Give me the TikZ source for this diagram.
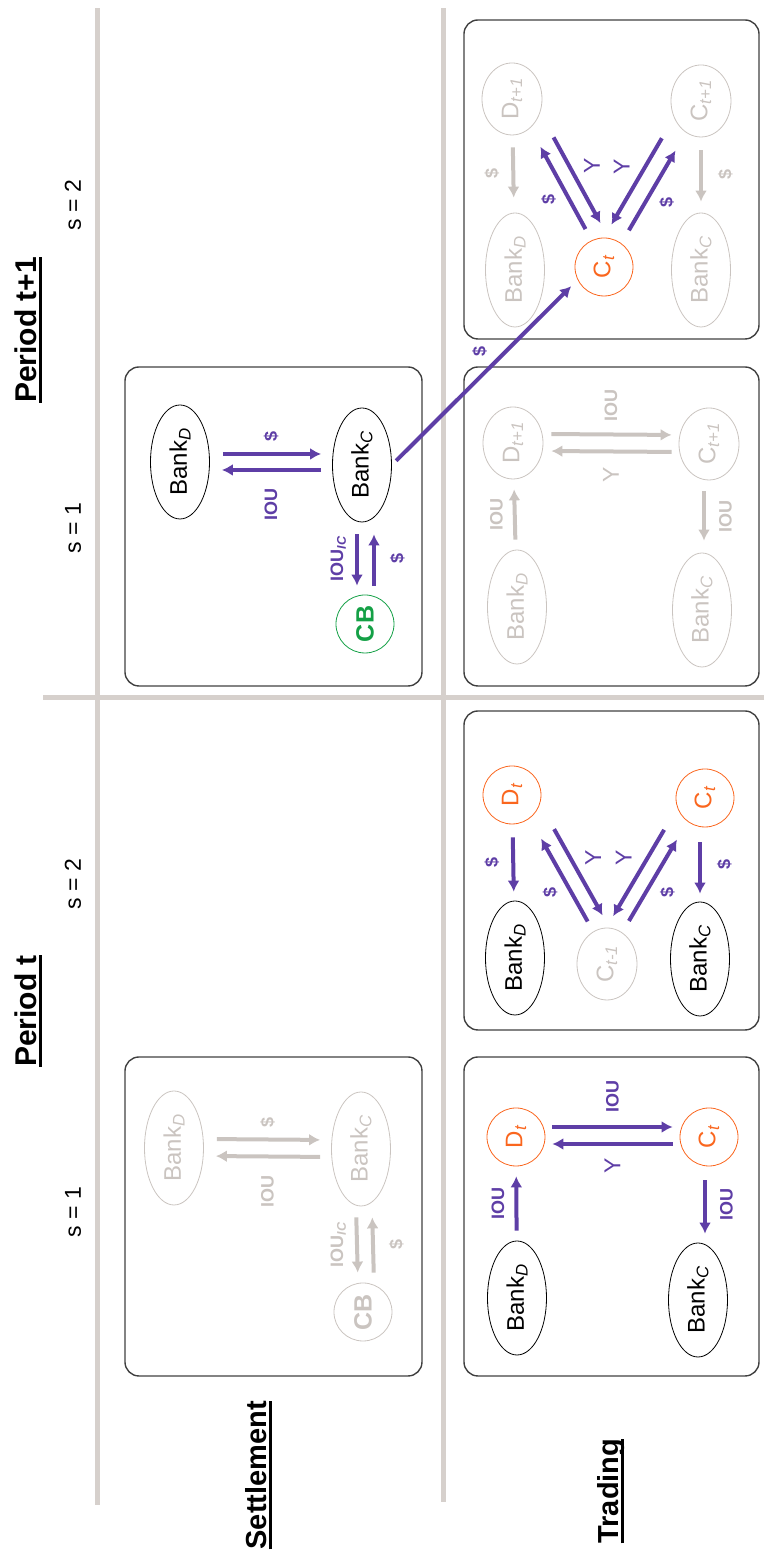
\documentclass[tikz,border=0pt]{standalone}
\usepackage{fontspec}
\setmainfont{Liberation Sans}
\usetikzlibrary{arrows.meta,calc,shapes.geometric}

\definecolor{flowpurple}{RGB}{94,62,166}
\definecolor{agentorange}{RGB}{250,102,30}
\definecolor{cbgreen}{RGB}{20,160,70}
\definecolor{ghost}{RGB}{202,196,192}
\definecolor{gridgrey}{RGB}{214,208,204}
\definecolor{panelline}{RGB}{64,64,64}

\newcommand{\fsz}[1]{\fontsize{#1}{#1}\selectfont}
\newcommand{\lowtag}[1]{\textsubscript{\itshape #1}}
\newcommand{\headline}[1]{\setbox0=\hbox{#1}\rlap{\rule[-5.5pt]{\wd0}{3pt}}\box0}

\tikzset{
  bank/.style={ellipse,draw,line width=.8pt,minimum width=114pt,minimum height=59pt,inner sep=0pt,font=\fsz{24}},
  ghostbank/.style={bank,draw=ghost,text=ghost},
  agent/.style={circle,draw=agentorange,text=agentorange,line width=.8pt,minimum size=58pt,inner sep=0pt,font=\fsz{24}},
  ghostagent/.style={ellipse,draw=ghost,text=ghost,line width=.8pt,minimum width=72pt,minimum height=60pt,inner sep=0pt,font=\fsz{24}},
  cbnode/.style={circle,draw=cbgreen,text=cbgreen,line width=.8pt,minimum size=58pt,inner sep=0pt,font=\bfseries\fsz{25}},
  ghostcb/.style={cbnode,draw=ghost,text=ghost},
  panel/.style={draw=panelline,line width=1.4pt,rounded corners=14pt},
  gridline/.style={draw=gridgrey,line width=5pt},
  flow/.style={draw=flowpurple,line width=4pt,-{Latex[length=11pt,width=12pt]},shorten <=10pt,shorten >=10pt},
  ghostflow/.style={flow,draw=ghost},
  diag/.style={flow,shorten <=0pt,shorten >=0pt},
  lbl/.style={text=flowpurple,font=\bfseries\fsz{18},inner sep=2pt},
  ylbl/.style={lbl,font=\fsz{23}},
  ghostlbl/.style={lbl,text=ghost},
  ghostylbl/.style={ylbl,text=ghost},
  heading/.style={font=\bfseries\fsz{30}},
  slbl/.style={font=\fsz{23}},
}

\begin{document}
\begin{tikzpicture}[x=1pt,y=1pt,rotate=90,transform shape,line join=round]
  \useasboundingbox (0,0) rectangle (1562,764);
  % grey grid
  \draw[gridline] (57,666) -- (1554,666) (60,320) -- (1554,320) (864,0) -- (864,721);
  % panels
  \foreach \x/\y/\h in {186/342/297,876/342/297,186/5/295,532/5/295,876/5/295,1223/5/295}{
    \draw[panel] (\x,\y) rectangle ++(319,\h);
  }
  % headings
  \node[heading,anchor=base] (pert) at (551,727) {\headline{Period t}};
  \node[heading,anchor=base] (pertn) at (1232,727) {\headline{Period t+1}};
  \node[heading,font=\bfseries\fsz{29},anchor=base west] (settle) at (9,497) {\headline{Settlement}};
  \node[heading,font=\bfseries\fsz{29},anchor=base west] (trade) at (15,145) {\headline{Trading}};
  \foreach \x/\n/\s in {350/sa/1,678/sb/2,1034/sc/1,1357/sd/2}{
    \node[slbl] (\n) at (\x,691) {s = \s};
  }

  % settlement, period t
  \node[ghostbank] (gbkd1) at (414,590) {Bank\lowtag{D}};
  \node[ghostbank] (gbkc1) at (413,403) {Bank\lowtag{C}};
  \node[ghostcb] (gcb1) at (250,401) {CB};
  \draw[ghostflow,shorten <=13pt,shorten >=11pt] ($(gbkd1.south)+(9,0)$) -- node[ghostlbl,right=8pt]{\$} ($(gbkc1.north)+(9,0)$);
  \draw[ghostflow,shorten <=11pt,shorten >=12pt] ($(gbkc1.north)+(-8,0)$) -- node[ghostlbl,left=15pt]{IOU} ($(gbkd1.south)+(-8,0)$);
  \draw[ghostflow,shorten <=11pt,shorten >=10pt] ($(gbkc1.west)+(0,5)$) -- node[ghostlbl,above=7pt]{IOU\lowtag{IC}} ($(gcb1.east)+(0,5)$);
  \draw[ghostflow,shorten <=10pt,shorten >=11pt] ($(gcb1.east)+(0,-11)$) -- node[ghostlbl,below=12pt]{\$} ($(gbkc1.west)+(0,-11)$);

  % settlement, period t+1
  \node[bank] (bkd1) at (1100,584) {Bank\lowtag{D}};
  \node[bank] (bkc1) at (1097,402) {Bank\lowtag{C}};
  \node[cbnode] (cb1) at (938,399) {CB};
  \draw[flow,shorten <=13pt,shorten >=11pt] ($(bkd1.south)+(8,0)$) -- node[lbl,right=8pt]{\$} ($(bkc1.north)+(11,0)$);
  \draw[flow,shorten <=11pt,shorten >=12pt] ($(bkc1.north)+(-5,0)$) -- node[lbl,left=15pt]{IOU} ($(bkd1.south)+(-8,0)$);
  \draw[flow,shorten <=12pt,shorten >=9pt] ($(bkc1.west)+(0,5)$) -- node[lbl,above=7pt]{IOU\lowtag{IC}} ($(cb1.east)+(0,8)$);
  \draw[flow,shorten <=9pt,shorten >=12pt] ($(cb1.east)+(0,-9)$) -- node[lbl,below=12pt]{\$} ($(bkc1.west)+(0,-12)$);

  % trading, period t, s = 1
  \node[bank] (bkd2) at (264,247) {Bank\lowtag{D}};
  \node[bank] (bkc2) at (262,66) {Bank\lowtag{C}};
  \node[agent] (dt1) at (425,248) {D\lowtag{t}};
  \node[agent] (ct1) at (425,55) {C\lowtag{t}};
  \draw[flow] (bkd2) -- node[lbl,above=8pt]{IOU} (dt1);
  \draw[flow,shorten <=7pt,shorten >=7pt] ($(dt1.south)+(10,0)$) -- node[lbl,right=10pt]{IOU} ($(ct1.north)+(10,0)$);
  \draw[flow,shorten <=7pt,shorten >=7pt] ($(ct1.north)+(-7,0)$) -- node[ylbl,left=10pt]{Y} ($(dt1.south)+(-7,0)$);
  \draw[flow,shorten <=14pt,shorten >=9pt] ($(ct1.west)+(0,4)$) -- node[lbl,below=11pt]{IOU} ($(bkc2.east)+(0,-7)$);

  % trading, period t, s = 2
  \node[bank] (bkd3) at (604,249) {Bank\lowtag{D}};
  \node[bank] (bkc3) at (603,64) {Bank\lowtag{C}};
  \node[agent] (dt2) at (767,252) {D\lowtag{t}};
  \node[agent] (ct2) at (764,59) {C\lowtag{t}};
  \node[ghostagent] (cprev) at (598,157) {C\lowtag{t-1}};
  \draw[flow,shorten <=13pt,shorten >=9pt] (dt2) -- node[lbl,above=10pt]{\$} (bkd3);
  \draw[flow,shorten <=15pt,shorten >=8pt] ($(ct2.west)+(0,5)$) -- node[lbl,below=13pt]{\$} (bkc3.east);
  \draw[diag] ($(cprev)!.24!(dt2)!4pt!-90:(dt2)$) -- node[lbl,above left=3pt]{\$} ($(cprev)!.73!(dt2)!4pt!90:(cprev)$);
  \draw[diag] ($(dt2)!.26!(cprev)!20pt!90:(cprev)$) -- node[ylbl,below right=3pt]{Y} ($(dt2)!.77!(cprev)!20pt!-90:(dt2)$);
  \draw[diag] ($(ct2)!.25!(cprev)!19pt!-90:(cprev)$) -- node[ylbl,above right=3pt]{Y} ($(ct2)!.77!(cprev)!19pt!90:(ct2)$);
  \draw[diag] ($(cprev)!.25!(ct2)!3pt!90:(ct2)$) -- node[lbl,below left=3pt]{\$} ($(cprev)!.74!(ct2)!3pt!-90:(cprev)$);

  % trading, period t+1, s = 1
  \node[ghostbank] (gbkd2) at (955,247) {Bank\lowtag{D}};
  \node[ghostbank] (gbkc2) at (952,62) {Bank\lowtag{C}};
  \node[ghostagent] (gdn1) at (1119,251) {D\lowtag{t+1}};
  \node[ghostagent] (gcn1) at (1118,55) {C\lowtag{t+1}};
  \draw[ghostflow] (gbkd2) -- node[ghostlbl,above=8pt]{IOU} (gdn1);
  \draw[ghostflow,shorten <=8pt,shorten >=7pt] ($(gdn1.south)+(9,0)$) -- node[ghostlbl,right=9pt]{IOU} ($(gcn1.north)+(9,0)$);
  \draw[ghostflow,shorten <=7pt,shorten >=8pt] ($(gcn1.north)+(-8,0)$) -- node[ghostylbl,left=12pt]{Y} ($(gdn1.south)+(-8,0)$);
  \draw[ghostflow,shorten <=11pt,shorten >=12pt] ($(gcn1.west)+(0,5)$) -- node[ghostlbl,below=11pt]{IOU} ($(gbkc2.east)+(0,-2)$);

  % trading, period t+1, s = 2
  \node[ghostbank] (gbkd3) at (1292,249) {Bank\lowtag{D}};
  \node[ghostbank] (gbkc3) at (1292,63) {Bank\lowtag{C}};
  \node[ghostagent] (gdn2) at (1463,252) {D\lowtag{t+1}};
  \node[ghostagent] (gcn2) at (1461,63) {C\lowtag{t+1}};
  \node[agent] (ct3) at (1295,160) {C\lowtag{t}};
  \draw[ghostflow,shorten <=12pt,shorten >=15pt] (gdn2) -- node[ghostlbl,above=10pt]{\$} (gbkd3);
  \draw[ghostflow,shorten <=13pt,shorten >=11pt] (gcn2) -- node[ghostlbl,below=13pt]{\$} (gbkc3);
  \draw[diag] ($(ct3)!.22!(gdn2)!2pt!-90:(gdn2)$) -- node[lbl,above left=3pt]{\$} ($(ct3)!.71!(gdn2)!2pt!90:(ct3)$);
  \draw[diag] ($(gdn2)!.28!(ct3)!18pt!90:(ct3)$) -- node[ylbl,below right=3pt]{Y} ($(gdn2)!.79!(ct3)!18pt!-90:(gdn2)$);
  \draw[diag] ($(gcn2)!.27!(ct3)!15pt!-90:(ct3)$) -- node[ylbl,above right=3pt]{Y} ($(gcn2)!.79!(ct3)!15pt!90:(gcn2)$);
  \draw[diag] ($(ct3)!.23!(gcn2)!3pt!-90:(gcn2)$) -- node[lbl,below left=3pt]{\$} ($(ct3)!.71!(gcn2)!3pt!90:(ct3)$);

  % settlement payment into trading
  \draw[flow,shorten <=6pt,shorten >=9pt] (bkc1.south) -- node[lbl,pos=.55,above right=3pt]{\$} (ct3.116);
\end{tikzpicture}
\end{document}
